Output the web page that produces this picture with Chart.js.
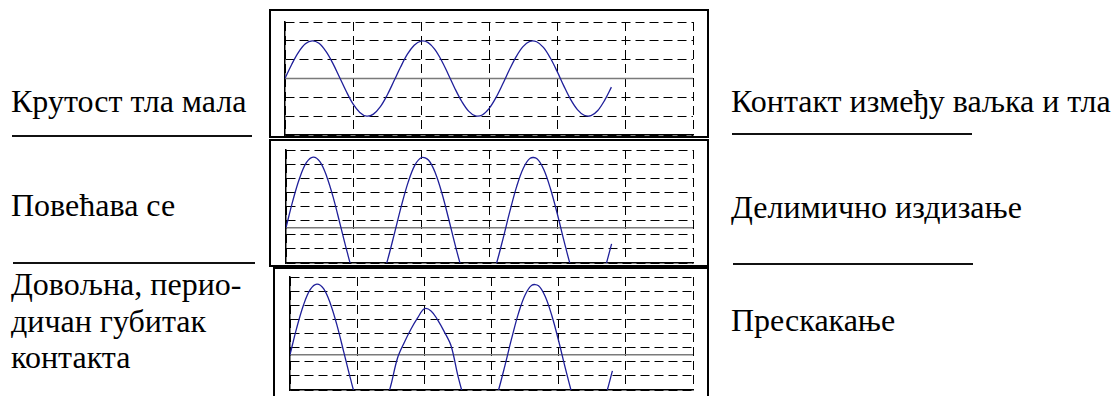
<!DOCTYPE html>
<html><head><meta charset="utf-8">
<script src="https://cdn.jsdelivr.net/npm/chart.js@4.4.1/dist/chart.umd.min.js"></script>
<style>
html,body{margin:0;padding:0;background:#fff;}
body{width:1119px;height:396px;overflow:hidden;position:relative;}
html body div.t{position:absolute;font-family:'Liberation Serif','Times New Roman',serif !important;font-size:32px;line-height:32px;color:#000;white-space:nowrap;}
.hr{position:absolute;height:2px;background:#111;}
.fr{position:absolute;border:2px solid #000;box-sizing:border-box;}
canvas{position:absolute;}
</style></head><body>
<div class="fr" style="left:269px;top:9px;width:440px;height:129px;"></div>
<div class="fr" style="left:269px;top:139px;width:440px;height:128px;"></div>
<div class="fr" style="left:273px;top:267px;width:436px;height:140px;"></div>
<div class="t" style="font-family:'Liberation Serif','Times New Roman',serif !important;left:11px;top:85px;">Крутост тла мала</div>
<div class="t" style="font-family:'Liberation Serif','Times New Roman',serif !important;left:11px;top:189px;">Повећава се</div>
<div class="t" style="font-family:'Liberation Serif','Times New Roman',serif !important;left:11px;top:268px;">Довољна, перио-</div>
<div class="t" style="font-family:'Liberation Serif','Times New Roman',serif !important;left:11px;top:305px;">дичан губитак</div>
<div class="t" style="font-family:'Liberation Serif','Times New Roman',serif !important;left:11px;top:341px;">контакта</div>
<div class="t" style="font-family:'Liberation Serif','Times New Roman',serif !important;left:731px;top:85px;">Контакт између ваљка и тла</div>
<div class="t" style="font-family:'Liberation Serif','Times New Roman',serif !important;left:731px;top:191px;">Делимично издизање</div>
<div class="t" style="font-family:'Liberation Serif','Times New Roman',serif !important;left:731px;top:304px;">Прескакање</div>
<div class="hr" style="left:12px;width:240px;top:135px;"></div>
<div class="hr" style="left:13px;width:242px;top:262px;"></div>
<div class="hr" style="left:732px;width:240px;top:133px;"></div>
<div class="hr" style="left:733px;width:240px;top:263px;"></div>
<canvas id="c1" width="418" height="123" style="left:280px;top:17px;"></canvas>
<canvas id="c2" width="417" height="123" style="left:281px;top:145px;"></canvas>
<canvas id="c3" width="413" height="123" style="left:285px;top:272px;"></canvas>
<script>
// ---- data ----
const timeAxis = [0,0.1,0.2,0.3,0.4,0.5,0.6,0.7,0.8,0.9,1.0,1.1,1.2,1.3,1.4,1.5,1.6,1.7,1.8,1.9,2.0,2.1,2.2,2.3,2.4,2.5,2.6,2.7,2.8,2.9,3.0,3.1,3.2,3.3,3.4,3.5,3.6,3.7,3.8,3.9,4.0,4.1,4.2,4.3,4.4,4.5,4.6,4.7,4.8];
const fullContact = [0,0.76,1.40,1.84,2.00,1.87,1.45,0.83,0.08,-0.68,-1.35,-1.80,-2.00,-1.89,-1.51,-0.90,-0.15,0.61,1.29,1.77,1.99,1.92,1.56,0.97,0.23,-0.54,-1.22,-1.73,-1.98,-1.94,-1.60,-1.03,-0.31,0.46,1.16,1.69,1.97,1.95,1.65,1.10,0.39,-0.39,-1.11,-1.65,-1.95,-1.97,-1.70,-1.16,-0.46];
const partialLift = [0,1.9,3.5,4.6,5.0,4.67,3.63,2.08,0.2,-1.7,-3.37,-4.5,-5.0,-4.73,-3.77,-2.24,-0.38,1.53,3.21,4.43,4.97,4.79,3.89,2.42,0.58,-1.34,-3.06,-4.33,-4.95,-4.84,-4.0,-2.58,-0.77,1.15,2.91,4.23,4.92,4.88,4.12,2.74,0.97,-0.97,-2.77,-4.13,-4.88,-4.92,-4.24,-2.9,-1.15];
const jumping = [0,1.9,3.5,4.6,5.0,4.67,3.63,2.08,0.2,-1.7,-3.37,-4.5,-5.0,-4.73,-3.77,-2.2,-0.25,0.85,1.8,2.6,3.25,3.1,2.45,1.6,0.6,-1.5,-3.2,-4.33,-4.95,-4.84,-4.0,-2.58,-0.77,1.15,2.91,4.23,4.92,4.88,4.12,2.74,0.97,-0.97,-2.77,-4.13,-4.88,-4.92,-4.24,-2.9,-1.15];
const xTicks = [0,1,2,3,4,5,6];
const yTicksTop = [-3,-2,-1,1,2,3];
const yTicksLower = [-2.5,-1.5,-0.5,0.5,1.5,2.5,3.5,4.5,5.5];

function makeChart(id, values, yMin, yMax, yTicks){
  new Chart(document.getElementById(id), {
    type:'line',
    data:{datasets:[
      {data:timeAxis.map((t,i)=>({x:t,y:values[i]})), borderColor:'#1f1f9a', borderWidth:1.3, pointRadius:0, tension:0.35, fill:false},
      {data:[{x:xTicks[0],y:0},{x:xTicks[xTicks.length-1],y:0}], borderColor:'#7a7a7a', borderWidth:1.6, pointRadius:0, fill:false}
    ]},
    options:{
      responsive:false, animation:false, devicePixelRatio:1,
      layout:{padding:5},
      plugins:{legend:{display:false}, tooltip:{enabled:false}},
      events:[],
      scales:{
        x:{type:'linear', min:xTicks[0], max:xTicks[xTicks.length-1],
           afterBuildTicks:s=>{s.ticks=xTicks.map(v=>({value:v}));},
           ticks:{display:false},
           grid:{color:'#000', lineWidth:1, drawTicks:false},
           border:{display:true, color:'#000', width:1.5, dash:[9,5]}},
        y:{type:'linear', min:yMin, max:yMax,
           afterBuildTicks:s=>{s.ticks=yTicks.map(v=>({value:v}));},
           ticks:{display:false},
           grid:{color:'#000', lineWidth:1, drawTicks:false},
           border:{display:true, color:'#000', width:1.5, dash:[9,5]}}
      }
    }
  });
}
makeChart('c1', fullContact, -3, 3, yTicksTop);
makeChart('c2', partialLift, -2.5, 5.5, yTicksLower);
makeChart('c3', jumping, -2.5, 5.5, yTicksLower);
</script>
</body></html>
